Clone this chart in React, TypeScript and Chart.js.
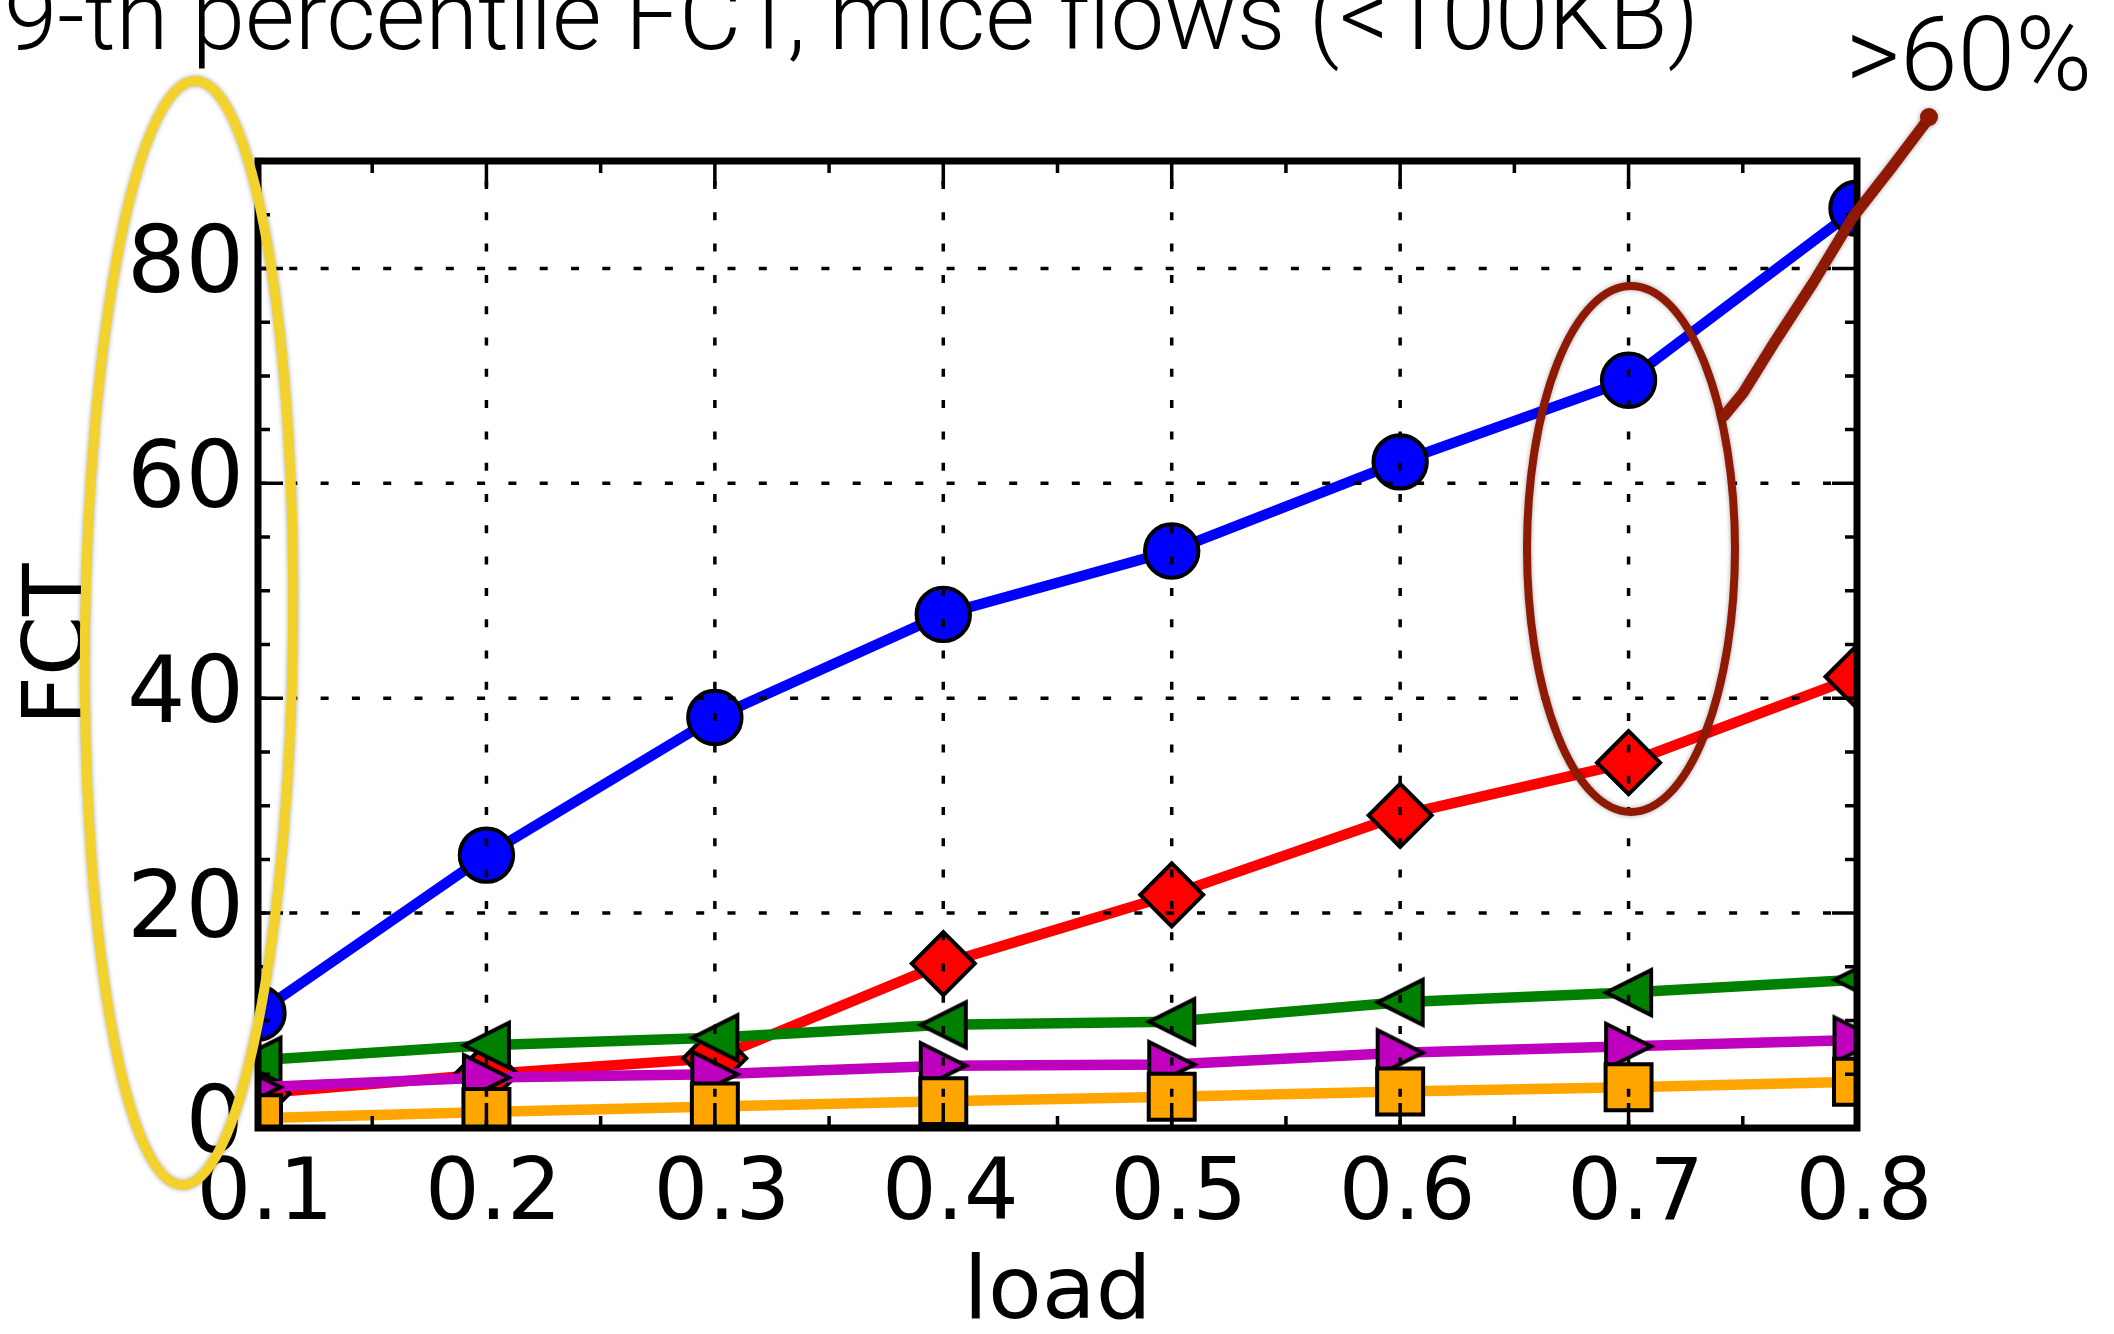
import React, { useEffect, useRef } from 'react';
import { Chart, registerables } from 'chart.js';

Chart.register(...registerables);

// ---- data ----
const loads = [0.1, 0.2, 0.3, 0.4, 0.5, 0.6, 0.7, 0.8];
const xTickLabels = ['0.1', '0.2', '0.3', '0.4', '0.5', '0.6', '0.7', '0.8'];
const yTickValues = [0, 20, 40, 60, 80];
const blueSeries = [10.7, 25.4, 38.2, 47.8, 53.7, 62.0, 69.6, 85.6];
const redSeries = [3.2, 5.0, 6.5, 15.3, 21.7, 29.1, 34.0, 42.0];
const greenSeries = [6.3, 7.7, 8.4, 9.6, 9.9, 11.7, 12.6, 13.8];
const magentaSeries = [3.8, 4.7, 5.0, 5.8, 5.9, 7.0, 7.6, 8.2];
const orangeSeries = [0.9, 1.5, 2.0, 2.5, 2.9, 3.4, 3.8, 4.3];
const titleText = '9-th percentile FCT, mice flows (<100KB)';
const noteText = '>60%';
const xTitle = 'load';
const yTitle = 'FCT';

const X_MIN = 0.1;
const X_MAX = 0.8;
const Y_MIN = 0;
const Y_MAX = 90;
const X_MINOR = 0.05;
const Y_MINOR = 5;

const W = 2114;
const H = 1334;

function toPoints(vals: number[]) {
  return loads.map((x, i) => ({ x, y: vals[i] }));
}

function makeTriangle(dir: 'left' | 'right', fill: string, s: number, bw: number) {
  const pad = bw + 6;
  const size = Math.ceil(s + pad * 2);
  const c = document.createElement('canvas');
  c.width = size;
  c.height = size;
  const ctx = c.getContext('2d')!;
  const cx = size / 2;
  const cy = size / 2;
  const h = s / 2;
  ctx.beginPath();
  if (dir === 'left') {
    ctx.moveTo(cx - h, cy);
    ctx.lineTo(cx + h, cy - h);
    ctx.lineTo(cx + h, cy + h);
  } else {
    ctx.moveTo(cx + h, cy);
    ctx.lineTo(cx - h, cy - h);
    ctx.lineTo(cx - h, cy + h);
  }
  ctx.closePath();
  ctx.fillStyle = fill;
  ctx.fill();
  ctx.lineWidth = bw;
  ctx.lineJoin = 'miter';
  ctx.strokeStyle = '#000';
  ctx.stroke();
  return c;
}

const axesPlugin = {
  id: 'mplAxes',
  afterDatasetsDraw(chart: any) {
    const { ctx, chartArea: a, scales } = chart;
    const x = scales.x;
    const y = scales.y;
    ctx.save();
    // dotted grid on top of data
    ctx.strokeStyle = '#000';
    ctx.lineWidth = 3.5;
    ctx.lineCap = 'butt';
    ctx.setLineDash([8, 23.3]);
    x.ticks.forEach((t: any) => {
      const px = x.getPixelForValue(t.value);
      if (px <= a.left + 2 || px >= a.right - 2) return;
      ctx.beginPath();
      ctx.moveTo(px, a.bottom);
      ctx.lineTo(px, a.top);
      ctx.stroke();
    });
    y.ticks.forEach((t: any) => {
      const py = y.getPixelForValue(t.value);
      if (py >= a.bottom - 2 || py <= a.top + 2) return;
      ctx.beginPath();
      ctx.moveTo(a.left, py);
      ctx.lineTo(a.right, py);
      ctx.stroke();
    });
    ctx.setLineDash([]);
    // tick marks (inward, all four sides)
    ctx.lineWidth = 3.5;
    const major = 25;
    const minor = 12;
    const nX = Math.round((X_MAX - X_MIN) / X_MINOR);
    for (let i = 0; i <= nX; i++) {
      const v = X_MIN + i * X_MINOR;
      const px = x.getPixelForValue(v);
      const len = i % 2 === 0 ? major : minor;
      ctx.beginPath();
      ctx.moveTo(px, a.bottom);
      ctx.lineTo(px, a.bottom - len);
      ctx.moveTo(px, a.top);
      ctx.lineTo(px, a.top + len);
      ctx.stroke();
    }
    const nY = Math.round((Y_MAX - Y_MIN) / Y_MINOR);
    for (let i = 0; i <= nY; i++) {
      const v = Y_MIN + i * Y_MINOR;
      const py = y.getPixelForValue(v);
      const len = v % 20 === 0 ? major : minor;
      ctx.beginPath();
      ctx.moveTo(a.left, py);
      ctx.lineTo(a.left + len, py);
      ctx.moveTo(a.right, py);
      ctx.lineTo(a.right - len, py);
      ctx.stroke();
    }
    // spines
    ctx.lineWidth = 7;
    ctx.lineJoin = 'miter';
    ctx.strokeRect(a.left, a.top, a.right - a.left, a.bottom - a.top);
    ctx.restore();
  },
  afterDraw(chart: any) {
    const { ctx } = chart;
    ctx.save();
    // title (cropped at top of picture)
    ctx.fillStyle = '#000';
    ctx.textBaseline = 'alphabetic';
    ctx.textAlign = 'left';
    ctx.font = '300 96px Roboto, "Liberation Sans", sans-serif';
    ctx.fillText(titleText, 4, 49);
    ctx.font = '300 104px Roboto, "Liberation Sans", sans-serif';
    ctx.fillText(noteText, 1846, 90);

    // hand-drawn yellow ellipse around y tick labels
    ctx.shadowColor = 'rgba(0,0,0,0.35)';
    ctx.shadowBlur = 5;
    ctx.strokeStyle = '#F4D22E';
    ctx.lineWidth = 10;
    ctx.beginPath();
    ctx.ellipse(189, 633, 104, 552, 0.012, 0, Math.PI * 2);
    ctx.stroke();

    // brown ellipse around 0.7 points
    ctx.strokeStyle = '#8e1a06';
    ctx.lineWidth = 8;
    ctx.beginPath();
    ctx.ellipse(1631, 549, 104, 263, 0, 0, Math.PI * 2);
    ctx.stroke();

    // brown pointer stroke up to the note
    ctx.lineWidth = 11;
    ctx.lineCap = 'round';
    ctx.lineJoin = 'round';
    ctx.beginPath();
    ctx.moveTo(1724, 416);
    ctx.lineTo(1743, 393);
    ctx.lineTo(1774, 343);
    ctx.lineTo(1813, 283);
    ctx.lineTo(1853, 217);
    ctx.lineTo(1892, 167);
    ctx.lineTo(1929, 118);
    ctx.stroke();
    ctx.fillStyle = '#8e1a06';
    ctx.beginPath();
    ctx.arc(1929, 117, 9, 0, Math.PI * 2);
    ctx.fill();
    ctx.restore();
  },
};

export default function App() {
  const ref = useRef<HTMLCanvasElement | null>(null);

  useEffect(() => {
    const canvas = ref.current;
    if (!canvas) return;
    const bw = 4;
    const greenTri = makeTriangle('left', '#008000', 45, bw);
    const magentaTri = makeTriangle('right', '#bf00bf', 45, bw);

    const common = {
      borderWidth: 10.5,
      pointBorderWidth: bw,
      pointBorderColor: '#000',
      clip: 0,
      tension: 0,
    };

    const chart = new Chart(canvas, {
      type: 'line',
      data: {
        datasets: [
          {
            ...common,
            label: 'blue',
            data: toPoints(blueSeries),
            borderColor: '#0000ff',
            pointBackgroundColor: '#0000ff',
            pointStyle: 'circle',
            pointRadius: 26.7,
            order: 5,
          },
          {
            ...common,
            label: 'red',
            data: toPoints(redSeries),
            borderColor: '#ff0000',
            pointBackgroundColor: '#ff0000',
            pointStyle: 'rectRot',
            pointRadius: 31.5,
            order: 4,
          },
          {
            ...common,
            label: 'green',
            data: toPoints(greenSeries),
            borderColor: '#008000',
            pointBackgroundColor: '#008000',
            pointStyle: greenTri,
            pointRadius: 24,
            order: 3,
          },
          {
            ...common,
            label: 'magenta',
            data: toPoints(magentaSeries),
            borderColor: '#bf00bf',
            pointBackgroundColor: '#bf00bf',
            pointStyle: magentaTri,
            pointRadius: 24,
            order: 2,
          },
          {
            ...common,
            label: 'orange',
            data: toPoints(orangeSeries),
            borderColor: '#ffa500',
            pointBackgroundColor: '#ffa500',
            pointStyle: 'rect',
            pointRadius: 32.5,
            order: 1,
          },
        ] as any,
      },
      options: {
        responsive: false,
        maintainAspectRatio: false,
        devicePixelRatio: 1,
        animation: false,
        events: [],
        layout: { padding: { top: 161, right: W - 1857, left: 0, bottom: 0 } },
        plugins: {
          legend: { display: false },
          tooltip: { enabled: false },
          title: { display: false },
        },
        scales: {
          x: {
            type: 'linear',
            min: X_MIN,
            max: X_MAX,
            afterFit: (s: any) => {
              s.height = H - 1128;
            },
            grid: { display: false, drawTicks: false },
            border: { display: false },
            ticks: {
              stepSize: 0.1,
              padding: 17,
              labelOffset: 7,
              color: '#000',
              maxRotation: 0,
              autoSkip: false,
              font: { family: '"DejaVu Sans"', size: 86, lineHeight: 1.2 },
              callback: (v: any) => {
                const i = loads.findIndex((l) => Math.abs(l - Number(v)) < 1e-6);
                return i >= 0 ? xTickLabels[i] : '';
              },
            },
            title: {
              display: true,
              text: xTitle,
              color: '#000',
              font: { family: '"DejaVu Sans"', size: 88, lineHeight: 1 },
              padding: { top: 0, bottom: -5 },
            },
          },
          y: {
            type: 'linear',
            min: Y_MIN,
            max: Y_MAX,
            afterFit: (s: any) => {
              s.width = 258;
            },
            grid: { display: false, drawTicks: false },
            border: { display: false },
            ticks: {
              stepSize: 20,
              includeBounds: false,
              padding: 14,
              color: '#000',
              autoSkip: false,
              font: { family: '"DejaVu Sans"', size: 92, lineHeight: 1.2 },
              callback: (v: any) => (yTickValues.includes(Number(v)) ? String(v) : ''),
            },
            title: {
              display: true,
              text: yTitle,
              color: '#000',
              font: { family: '"DejaVu Sans"', size: 86, lineHeight: 1.2 },
              padding: { top: 10, bottom: 0 },
            },
          },
        },
      } as any,
      plugins: [axesPlugin],
    });

    return () => {
      chart.destroy();
    };
  }, []);

  return (
    <div style={{ position: 'fixed', left: 0, top: 0, width: W, height: H, background: '#fff' }}>
      <canvas ref={ref} width={W} height={H} style={{ display: 'block', width: W, height: H }} />
    </div>
  );
}
